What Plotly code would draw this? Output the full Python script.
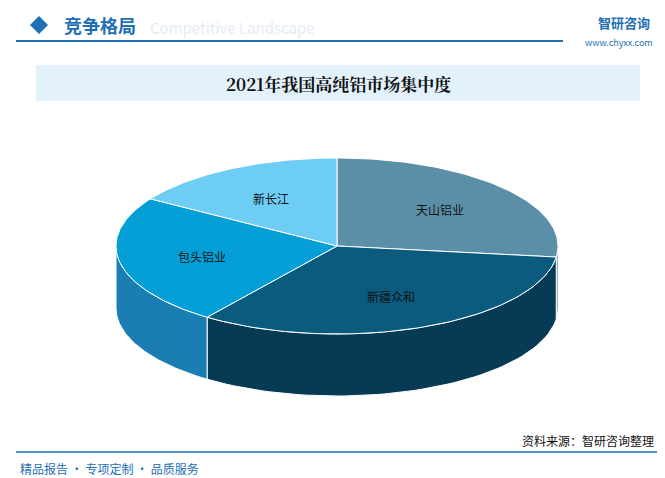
import numpy as np
import plotly.graph_objects as go

# data
names = ['天山铝业', '新疆众和', '包头铝业', '新长江']
values = [27, 33, 24, 16]
top_colors = ['#5b8fa8', '#0b5b7f', '#059fd8', '#6dcdf4']
side_colors = ['#3f6f86', '#073a54', '#1a7eb2', '#4aa9d6']

cx, cy, rx, ry, depth = 329, 238, 221, 88, 62

fig = go.Figure()

def pt(a, dy=0):
    r = np.radians(a)
    return cx + rx * np.cos(r), cy - ry * np.sin(r) + dy

total = sum(values)
starts, ends = [], []
a = 90.0
for v in values:
    starts.append(a)
    a -= 360 * v / total
    ends.append(a)

# side walls (front half: angles between -180 and 0)
for s, e, col in zip(starts, ends, side_colors):
    lo, hi = max(e, -180), min(s, 0)
    if hi <= lo:
        continue
    ang = np.linspace(hi, lo, 60)
    xs, ys = pt(ang)
    xb, yb = pt(ang[::-1], depth)
    fig.add_trace(go.Scatter(x=np.r_[xs, xb, xs[0]], y=np.r_[ys, yb, ys[0]],
                             fill='toself', fillcolor=col, mode='lines',
                             line=dict(color='white', width=1), hoverinfo='skip'))

# top faces
for s, e, col, n in zip(starts, ends, top_colors, names):
    ang = np.linspace(s, e, 80)
    xs, ys = pt(ang)
    fig.add_trace(go.Scatter(x=np.r_[cx, xs, cx], y=np.r_[cy, ys, cy],
                             fill='toself', fillcolor=col, mode='lines',
                             line=dict(color='white', width=1), hoverinfo='skip'))
    m = np.radians((s + e) / 2)
    fig.add_annotation(x=cx + rx * 0.62 * np.cos(m), y=cy - ry * 0.62 * np.sin(m),
                       text=n, showarrow=False, font=dict(size=12, color='#111'))

# header / footer decorations
fig.add_shape(type='line', x0=8, x1=555, y0=33, y1=33, line=dict(color='#1e6fb5', width=2))
fig.add_shape(type='rect', x0=28, x1=632, y0=57, y1=93, fillcolor='#e3f1fb', line_width=0, layer='below')
fig.add_shape(type='line', x0=8, x1=657, y0=444, y1=444, line=dict(color='#1e6fb5', width=1.5))
fig.add_shape(type='path', path='M 22 17 L 31 8 L 40 17 L 31 26 Z', fillcolor='#1e6fb5', line_width=0)

ann = [
    (54, 17, '<b>竞争格局</b>', 18, '#1e6fb5', 'left', 'middle'),
    (140, 19, 'Competitive Landscape', 15, '#e4ebf2', 'left', 'middle'),
    (588, 14, '<b>智研咨询</b>', 13, '#1e6fb5', 'left', 'middle'),
    (575, 34, 'www.chyxx.com', 9, '#1e6fb5', 'left', 'middle'),
    (330, 75, '<b>2021年我国高纯铝市场集中度</b>', 17, '#111', 'center', 'middle'),
    (10, 460, '精品报告 · 专项定制 · 品质服务', 12, '#1e6fb5', 'left', 'middle'),
    (648, 443, '资料来源：智研咨询整理', 12, '#111', 'right', 'bottom'),
]
for x, y, t, sz, c, al, va in ann:
    fig.add_annotation(x=x, y=y, text=t, showarrow=False, xanchor=al,
                       yanchor=va, font=dict(size=sz, color=c,
                       family='Noto Sans CJK SC' if '2021' not in t else 'Noto Serif CJK SC, Noto Sans CJK SC'))

fig.update_layout(
    width=665, height=478, margin=dict(l=0, r=0, t=0, b=0),
    paper_bgcolor='white', plot_bgcolor='white', showlegend=False,
    xaxis=dict(range=[0, 665], visible=False, fixedrange=True),
    yaxis=dict(range=[478, 0], visible=False, fixedrange=True),
    font=dict(family='Noto Sans CJK SC'),
)
fig.write_html('out.html')
